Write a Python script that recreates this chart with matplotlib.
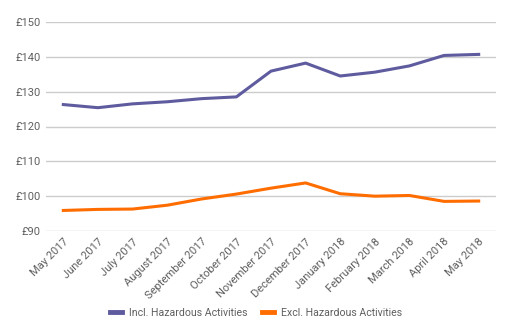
import matplotlib
matplotlib.use('Agg')
import matplotlib.pyplot as plt

months = ['May 2017', 'June 2017', 'July 2017', 'August 2017', 'September 2017',
          'October 2017', 'November 2017', 'December 2017', 'January 2018',
          'February 2018', 'March 2018', 'April 2018', 'May 2018']
incl_hazardous = [126.3, 125.4, 126.5, 127.1, 128.0, 128.5, 135.9, 138.2,
                  134.5, 135.6, 137.4, 140.4, 140.7]
excl_hazardous = [95.9, 96.2, 96.3, 97.4, 99.2, 100.6, 102.3, 103.8,
                  100.7, 100.0, 100.2, 98.5, 98.6]
y_ticks = [90, 100, 110, 120, 130, 140, 150]

plt.rcParams['font.family'] = ['Roboto', 'DejaVu Sans']
text_color = '#5f5f5f'

fig = plt.figure(figsize=(5.12, 3.35), dpi=100)
ax = fig.add_axes([46 / 512, 1 - 231 / 335, 450 / 512, 209 / 335])

x = list(range(len(months)))
ax.plot(x, incl_hazardous, color='#5f5b9f', lw=2.2, label='Incl. Hazardous Activities',
        solid_joinstyle='round', zorder=3)
ax.plot(x, excl_hazardous, color='#ff6d01', lw=2.2, label='Excl. Hazardous Activities',
        solid_joinstyle='round', zorder=3)

ax.set_xlim(-0.5, len(months) - 0.5)
ax.set_ylim(90, 150)
ax.set_yticks(y_ticks)
ax.set_yticklabels(['£%d' % v for v in y_ticks])
ax.set_xticks(x)
ax.set_xticklabels(months, rotation=45, ha='right', rotation_mode='anchor')
ax.tick_params(length=0, labelsize=8, colors=text_color, pad=4)
ax.grid(axis='y', color='#cccccc', lw=1)
ax.set_axisbelow(True)
for s in ax.spines.values():
    s.set_visible(False)

leg = fig.legend(loc='center', bbox_to_anchor=(256 / 512, 1 - 313 / 335), ncol=2,
                 frameon=False, fontsize=7.6, labelcolor=text_color, handlelength=1.15,
                 columnspacing=1.35, handletextpad=0.65)
for line in leg.get_lines():
    line.set_linewidth(3.5)

fig.savefig('out.png', dpi=100)
